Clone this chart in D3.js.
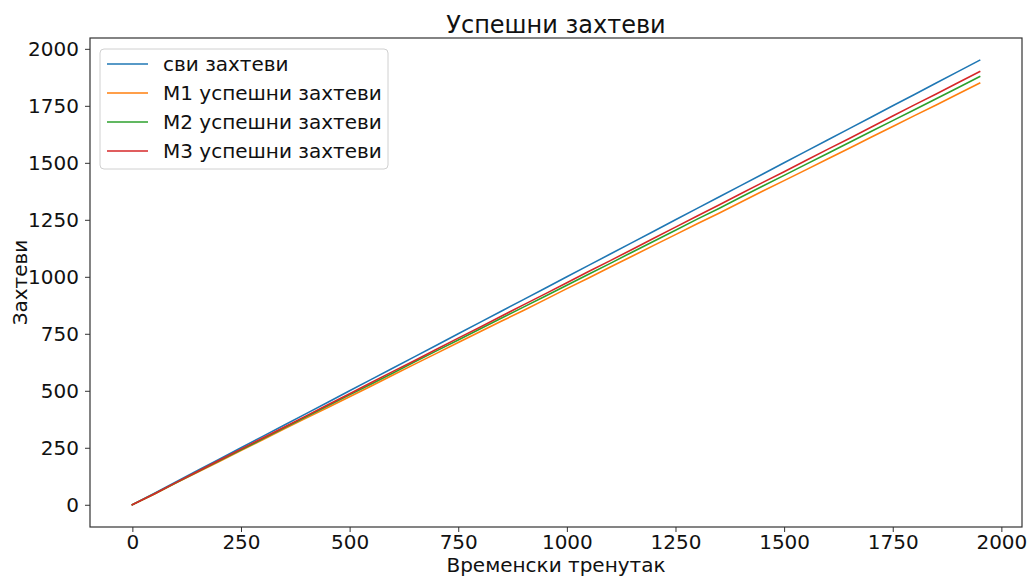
<!DOCTYPE html>
<html>
<head>
<meta charset="utf-8">
<script src="https://d3js.org/d3.v7.min.js"></script>
<style>
  html, body { margin: 0; padding: 0; background: #fff; }
  svg { display: block; font-family: "DejaVu Sans", sans-serif; }
</style>
</head>
<body>
<svg id="chart" width="1028" height="577"></svg>
<script>
// Time steps and cumulative request counts
const timeSteps = [0, 50, 100, 150, 200, 250, 300, 350, 400, 450, 500, 550, 600, 650, 700, 750, 800, 850, 900, 950,
  1000, 1050, 1100, 1150, 1200, 1250, 1300, 1350, 1400, 1450, 1500, 1550, 1600, 1650, 1700, 1750, 1800, 1850, 1900, 1950];
const allRequests = [0, 50, 100, 150, 200, 250, 300, 350, 400, 450, 500, 550, 600, 650, 700, 750, 800, 850, 900, 950,
  1000, 1050, 1100, 1150, 1200, 1250, 1300, 1350, 1400, 1450, 1500, 1550, 1600, 1650, 1700, 1750, 1800, 1850, 1900, 1950];
const m1Success = [0, 46, 95, 143, 190, 238, 285, 333, 380, 427, 474, 521, 569, 617, 664, 712, 759, 806, 852, 900,
  948, 995, 1043, 1090, 1138, 1185, 1233, 1279, 1327, 1375, 1422, 1469, 1517, 1564, 1612, 1659, 1707, 1754, 1802, 1850];
const m2Success = [0, 47, 96, 145, 193, 241, 289, 338, 386, 434, 482, 530, 578, 627, 675, 723, 771, 819, 867, 915,
  963, 1011, 1059, 1108, 1156, 1204, 1253, 1300, 1349, 1397, 1445, 1493, 1541, 1589, 1637, 1685, 1733, 1781, 1829, 1878];
const m3Success = [0, 47, 97, 146, 195, 244, 293, 341, 390, 439, 487, 536, 585, 633, 682, 731, 779, 828, 877, 925,
  974, 1023, 1071, 1120, 1169, 1218, 1267, 1315, 1364, 1413, 1461, 1510, 1559, 1607, 1656, 1705, 1754, 1802, 1851, 1900];

const seriesNames = ["сви захтеви", "M1 успешни захтеви", "M2 успешни захтеви", "M3 успешни захтеви"];
const seriesColors = ["#1f77b4", "#ff7f0e", "#2ca02c", "#d62728"];
const xTicks = [0, 250, 500, 750, 1000, 1250, 1500, 1750, 2000];
const yTicks = [0, 250, 500, 750, 1000, 1250, 1500, 1750, 2000];

const titleText = "Успешни захтеви";
const xLabelText = "Временски тренутак";
const yLabelText = "Захтеви";

const series = [allRequests, m1Success, m2Success, m3Success].map((vals, i) => ({
  name: seriesNames[i],
  color: seriesColors[i],
  points: timeSteps.map((t, j) => [t, vals[j]])
}));

const svg = d3.select("#chart");
const plot = { left: 90, right: 1022, top: 38, bottom: 527 };

const x = d3.scaleLinear().domain([-97.5, 2047.5]).range([plot.left, plot.right]);
const y = d3.scaleLinear().domain([-97.5, 2047.5]).range([plot.bottom, plot.top]);

const axisColor = "#333";
const tickFont = 20;

// Axes
const xAxis = svg.append("g")
  .attr("transform", `translate(0,${plot.bottom})`)
  .call(d3.axisBottom(x).tickValues(xTicks).tickSize(5).tickPadding(3).tickFormat(d3.format("d")));
const yAxis = svg.append("g")
  .attr("transform", `translate(${plot.left},0)`)
  .call(d3.axisLeft(y).tickValues(yTicks).tickSize(5).tickPadding(6).tickFormat(d3.format("d")));

[xAxis, yAxis].forEach(g => {
  g.select(".domain").remove();
  g.selectAll(".tick line").attr("stroke", axisColor).attr("stroke-width", 1);
  g.selectAll(".tick text")
    .attr("fill", "#111")
    .style("font-family", "DejaVu Sans, sans-serif")
    .style("font-size", tickFont + "px");
});

// Frame
svg.append("rect")
  .attr("x", plot.left).attr("y", plot.top)
  .attr("width", plot.right - plot.left).attr("height", plot.bottom - plot.top)
  .attr("fill", "none").attr("stroke", axisColor).attr("stroke-width", 1.2);

// Lines
const line = d3.line().x(d => x(d[0])).y(d => y(d[1]));
svg.append("g").selectAll("path")
  .data(series)
  .join("path")
  .attr("d", d => line(d.points))
  .attr("fill", "none")
  .attr("stroke", d => d.color)
  .attr("stroke-width", 1.6)
  .attr("stroke-linejoin", "round")
  .attr("stroke-linecap", "square");

// Title and axis labels
svg.append("text")
  .attr("x", (plot.left + plot.right) / 2).attr("y", 33)
  .attr("text-anchor", "middle")
  .attr("fill", "#111")
  .style("font-size", "24px")
  .text(titleText);

svg.append("text")
  .attr("x", (plot.left + plot.right) / 2).attr("y", 572)
  .attr("text-anchor", "middle")
  .attr("fill", "#111")
  .style("font-size", "20px")
  .text(xLabelText);

svg.append("text")
  .attr("transform", `translate(27,${(plot.top + plot.bottom) / 2}) rotate(-90)`)
  .attr("text-anchor", "middle")
  .attr("fill", "#111")
  .style("font-size", "20px")
  .text(yLabelText);

// Legend
const legend = svg.append("g").attr("transform", "translate(100,49)");
legend.append("rect")
  .attr("x", 0).attr("y", 0).attr("width", 288).attr("height", 120)
  .attr("rx", 4)
  .attr("fill", "#fff").attr("fill-opacity", 0.8)
  .attr("stroke", "#d0d0d0").attr("stroke-width", 1);
const items = legend.selectAll("g.item")
  .data(series)
  .join("g")
  .attr("class", "item")
  .attr("transform", (d, i) => `translate(0,${15 + i * 29})`);
items.append("line")
  .attr("x1", 7).attr("x2", 48).attr("y1", 0).attr("y2", 0)
  .attr("stroke", d => d.color).attr("stroke-width", 1.6);
items.append("text")
  .attr("x", 63).attr("y", 7)
  .attr("fill", "#111")
  .style("font-size", "20px")
  .text(d => d.name);
</script>
</body>
</html>
